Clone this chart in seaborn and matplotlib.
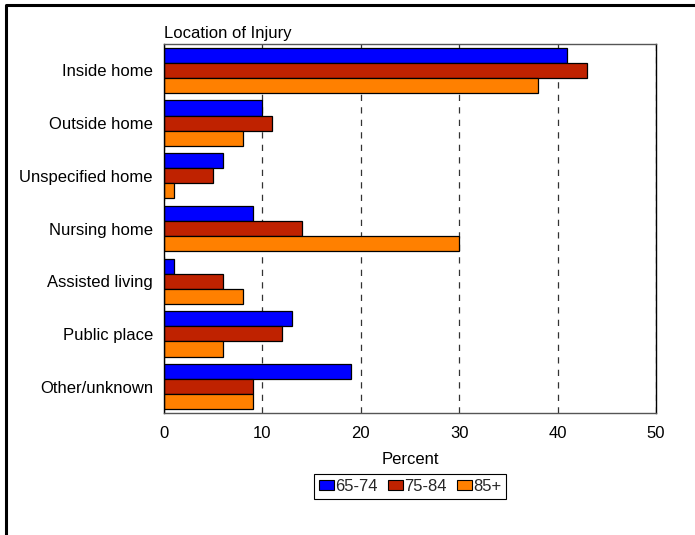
import matplotlib
matplotlib.use("Agg")
import matplotlib.pyplot as plt
import seaborn as sns
import pandas as pd
from matplotlib.lines import Line2D
from matplotlib.patches import Patch

categories = ["Inside home", "Outside home", "Unspecified home", "Nursing home",
              "Assisted living", "Public place", "Other/unknown"]
age_groups = ["65-74", "75-84", "85+"]
vals_65_74 = [41, 10, 6, 9, 1, 13, 19]
vals_75_84 = [43, 11, 5, 14, 6, 12, 9]
vals_85_plus = [38, 8, 1, 30, 8, 6, 9]
colors = ["#0000FF", "#BF2200", "#FF8000"]
x_ticks = [0, 10, 20, 30, 40, 50]

rows = []
for age, vals in zip(age_groups, [vals_65_74, vals_75_84, vals_85_plus]):
    for c, v in zip(categories, vals):
        rows.append({"location": c, "percent": v, "age": age})
df = pd.DataFrame(rows)

sns.set_theme(style="white")
plt.rcParams["font.family"] = ["Liberation Sans", "DejaVu Sans"]

fig = plt.figure(figsize=(6.95, 5.35), dpi=100)
ax = fig.add_axes([164/695, 1 - 413/535, (656-164)/695, (413-44)/535])

sns.barplot(data=df, y="location", x="percent", hue="age", order=categories,
            hue_order=age_groups, palette=colors, saturation=1, width=0.86,
            edgecolor="black", linewidth=0.9, orient="h", ax=ax, legend=False)

ax.set_xlim(0, 50)
ax.set_xticks(x_ticks)
ax.set_axisbelow(True)
ax.xaxis.grid(True, linestyle=(0, (5, 5)), color="#333333", linewidth=0.9)
ax.yaxis.grid(False)
ax.tick_params(axis="both", length=0, labelsize=12, colors="black")
ax.tick_params(axis="y", pad=8)
ax.tick_params(axis="x", pad=9)
ax.set_ylabel("")
ax.set_xlabel("Percent", fontsize=12, color="black", labelpad=8)
ax.set_title("Location of Injury", loc="left", fontsize=12, color="black", pad=4)
for side in ["left", "right"]:
    ax.spines[side].set_color("black")
    ax.spines[side].set_linewidth(1.0)
for side in ["top", "bottom"]:
    ax.spines[side].set_color("#555555")
    ax.spines[side].set_linewidth(1.0)

handles = [Patch(facecolor=c, edgecolor="black", linewidth=0.8) for c in colors]
leg = fig.legend(handles, age_groups, loc="center", bbox_to_anchor=(410/695, 1 - 486.5/535),
                 ncol=3, fontsize=12, handlelength=0.9, handleheight=0.6,
                 handletextpad=0.08, columnspacing=0.6, borderpad=0.3,
                 borderaxespad=0, fancybox=False, edgecolor="black", framealpha=1,
                 frameon=True)
leg.get_frame().set_linewidth(0.8)

# outer border (left and top)
fig.add_artist(Line2D([6/695, 6/695, 1.0], [0.0, 1 - 5/535, 1 - 5/535],
                      transform=fig.transFigure, color="black", linewidth=2.2))

fig.savefig("out.png", dpi=100)
